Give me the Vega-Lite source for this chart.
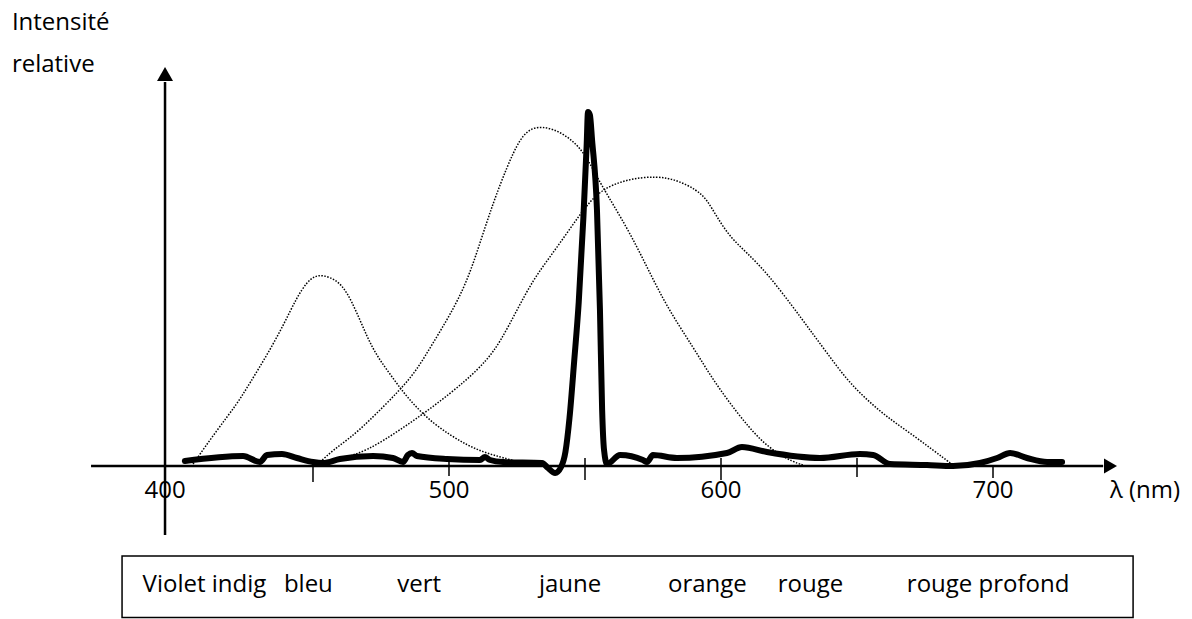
{
  "$schema": "https://vega.github.io/schema/vega-lite/v6.json",
  "width": 1192,
  "height": 619,
  "autosize": {"type": "fit", "contains": "padding"},
  "padding": 0,
  "background": "white",
  "config": {"view": {"stroke": null}, "text": {"font": "Open Sans", "fontSize": 24, "color": "black"}},
  "datasets": {
    "box": [{"x": 379.8, "x2": 751.5, "y": -22.5, "y2": -37.9}],
    "axes": [
      {"x": 368.4, "x2": 740.5, "y": 0, "y2": 0},
      {"x": 395.6, "x2": 395.6, "y": 96, "y2": -17.25}
    ],
    "ticks": [
      {"x": 450, "y": 0, "y2": -4},
      {"x": 500, "y": 1, "y2": -2.5},
      {"x": 550, "y": 2, "y2": -3.5},
      {"x": 600, "y": 2, "y2": -3.5},
      {"x": 650, "y": 2, "y2": -2.75},
      {"x": 700, "y": 0, "y2": -3}
    ],
    "arrowRight": [{"x": 743.2, "y": 0}],
    "arrowUp": [{"x": 395.6, "y": 98.0}],
    "curves": [
      {"s": "bleu", "x": 405.9, "y": 0.5},
      {"s": "bleu", "x": 414.7, "y": 9},
      {"s": "bleu", "x": 422.1, "y": 15.5},
      {"s": "bleu", "x": 426.8, "y": 20.75},
      {"s": "bleu", "x": 433.1, "y": 27.75},
      {"s": "bleu", "x": 439.0, "y": 35},
      {"s": "bleu", "x": 444.1, "y": 42.25},
      {"s": "bleu", "x": 447.8, "y": 46},
      {"s": "bleu", "x": 450.7, "y": 47.5},
      {"s": "bleu", "x": 453.7, "y": 47.75},
      {"s": "bleu", "x": 458.8, "y": 46.5},
      {"s": "bleu", "x": 462.5, "y": 43.5},
      {"s": "bleu", "x": 466.2, "y": 38.25},
      {"s": "bleu", "x": 469.9, "y": 32.25},
      {"s": "bleu", "x": 473.5, "y": 27.5},
      {"s": "bleu", "x": 478.3, "y": 23},
      {"s": "bleu", "x": 483.1, "y": 18.5},
      {"s": "bleu", "x": 488.2, "y": 14.5},
      {"s": "bleu", "x": 494.1, "y": 10.75},
      {"s": "bleu", "x": 500.4, "y": 7.75},
      {"s": "bleu", "x": 506.6, "y": 5.25},
      {"s": "bleu", "x": 512.5, "y": 3.5},
      {"s": "bleu", "x": 518.8, "y": 2.25},
      {"s": "bleu", "x": 524.3, "y": 1.25},
      {"s": "vert", "x": 451.8, "y": 0.5},
      {"s": "vert", "x": 457.4, "y": 4},
      {"s": "vert", "x": 463.6, "y": 7},
      {"s": "vert", "x": 469.9, "y": 10.75},
      {"s": "vert", "x": 482.0, "y": 19},
      {"s": "vert", "x": 488.2, "y": 24},
      {"s": "vert", "x": 494.1, "y": 30.75},
      {"s": "vert", "x": 500.4, "y": 37.75},
      {"s": "vert", "x": 506.6, "y": 46},
      {"s": "vert", "x": 511.4, "y": 55.75},
      {"s": "vert", "x": 516.2, "y": 65.75},
      {"s": "vert", "x": 521.3, "y": 74.75},
      {"s": "vert", "x": 526.1, "y": 82},
      {"s": "vert", "x": 530.9, "y": 85},
      {"s": "vert", "x": 538.2, "y": 84.5},
      {"s": "vert", "x": 545.6, "y": 81.5},
      {"s": "vert", "x": 550.7, "y": 77.25},
      {"s": "vert", "x": 555.5, "y": 70.75},
      {"s": "vert", "x": 565.4, "y": 59.75},
      {"s": "vert", "x": 572.8, "y": 49.75},
      {"s": "vert", "x": 580.1, "y": 39.75},
      {"s": "vert", "x": 589.7, "y": 29.75},
      {"s": "vert", "x": 597.1, "y": 21.5},
      {"s": "vert", "x": 605.9, "y": 13.25},
      {"s": "vert", "x": 614.3, "y": 6.5},
      {"s": "vert", "x": 620.6, "y": 3.25},
      {"s": "vert", "x": 626.5, "y": 1},
      {"s": "vert", "x": 630.2, "y": 0.25},
      {"s": "rouge", "x": 454.4, "y": 0.5},
      {"s": "rouge", "x": 459.9, "y": 1.75},
      {"s": "rouge", "x": 469.9, "y": 3.75},
      {"s": "rouge", "x": 482.0, "y": 9},
      {"s": "rouge", "x": 494.1, "y": 14.75},
      {"s": "rouge", "x": 506.6, "y": 21.5},
      {"s": "rouge", "x": 514.0, "y": 26.5},
      {"s": "rouge", "x": 518.8, "y": 31},
      {"s": "rouge", "x": 525.0, "y": 39},
      {"s": "rouge", "x": 530.9, "y": 46.5},
      {"s": "rouge", "x": 537.1, "y": 52.25},
      {"s": "rouge", "x": 543.4, "y": 58.25},
      {"s": "rouge", "x": 549.3, "y": 64},
      {"s": "rouge", "x": 555.5, "y": 69},
      {"s": "rouge", "x": 565.4, "y": 71.75},
      {"s": "rouge", "x": 576.5, "y": 72.5},
      {"s": "rouge", "x": 583.8, "y": 71.5},
      {"s": "rouge", "x": 591.2, "y": 69},
      {"s": "rouge", "x": 594.9, "y": 66.5},
      {"s": "rouge", "x": 598.5, "y": 62.25},
      {"s": "rouge", "x": 603.3, "y": 57.25},
      {"s": "rouge", "x": 609.6, "y": 53.25},
      {"s": "rouge", "x": 616.9, "y": 48.25},
      {"s": "rouge", "x": 626.5, "y": 39.75},
      {"s": "rouge", "x": 632.7, "y": 34},
      {"s": "rouge", "x": 639.0, "y": 28.25},
      {"s": "rouge", "x": 646.3, "y": 21.5},
      {"s": "rouge", "x": 653.7, "y": 16.5},
      {"s": "rouge", "x": 661.0, "y": 12.25},
      {"s": "rouge", "x": 669.5, "y": 8.25},
      {"s": "rouge", "x": 677.9, "y": 4},
      {"s": "rouge", "x": 685.3, "y": 0.25}
    ],
    "spectre": [
      {"x": 402.9, "y": 1.25},
      {"x": 424.3, "y": 2.5},
      {"x": 430.5, "y": 1.0},
      {"x": 433.1, "y": 2.75},
      {"x": 438.6, "y": 3.0},
      {"x": 444.1, "y": 2.0},
      {"x": 450.0, "y": 1.0},
      {"x": 453.7, "y": 0.75},
      {"x": 459.9, "y": 1.75},
      {"x": 472.1, "y": 2.5},
      {"x": 479.4, "y": 2.0},
      {"x": 483.1, "y": 1.0},
      {"x": 484.9, "y": 2.75},
      {"x": 486.4, "y": 3.25},
      {"x": 488.2, "y": 2.5},
      {"x": 499.3, "y": 1.75},
      {"x": 511.4, "y": 1.5},
      {"x": 513.2, "y": 2.25},
      {"x": 515.1, "y": 1.5},
      {"x": 519.9, "y": 1.0},
      {"x": 534.2, "y": 0.75},
      {"x": 536.4, "y": -0.5},
      {"x": 539.0, "y": -1.75},
      {"x": 541.2, "y": -0.25},
      {"x": 542.8, "y": 3.5},
      {"x": 544.3, "y": 12},
      {"x": 546.0, "y": 26},
      {"x": 547.7, "y": 41},
      {"x": 549.4, "y": 62},
      {"x": 550.6, "y": 80},
      {"x": 551.1, "y": 88.5},
      {"x": 551.8, "y": 87.75},
      {"x": 552.6, "y": 81.5},
      {"x": 554.4, "y": 64},
      {"x": 555.5, "y": 39},
      {"x": 556.3, "y": 14},
      {"x": 557.0, "y": 4},
      {"x": 558.1, "y": 0.5},
      {"x": 562.9, "y": 2.75},
      {"x": 571.3, "y": 1.5},
      {"x": 572.8, "y": 1.0},
      {"x": 575.0, "y": 2.75},
      {"x": 583.8, "y": 2.0},
      {"x": 602.2, "y": 3.25},
      {"x": 607.7, "y": 4.75},
      {"x": 616.9, "y": 3.5},
      {"x": 636.4, "y": 2.0},
      {"x": 651.1, "y": 3.0},
      {"x": 655.9, "y": 2.75},
      {"x": 662.1, "y": 0.5},
      {"x": 675.7, "y": 0.25},
      {"x": 685.3, "y": 0},
      {"x": 695.2, "y": 0.75},
      {"x": 701.5, "y": 2.0},
      {"x": 706.3, "y": 3.25},
      {"x": 712.5, "y": 2.0},
      {"x": 719.9, "y": 1.0},
      {"x": 725.4, "y": 1.0}
    ],
    "centerText": [
      {"x": 395.6, "y": -8, "text": "400"},
      {"x": 500, "y": -8, "text": "500"},
      {"x": 600, "y": -8, "text": "600"},
      {"x": 700, "y": -8, "text": "700"},
      {"x": 410.1, "y": -31.5, "text": "Violet indig"},
      {"x": 448.3, "y": -31.5, "text": "bleu"},
      {"x": 489.0, "y": -31.5, "text": "vert"},
      {"x": 544.5, "y": -31.5, "text": "jaune"},
      {"x": 595.0, "y": -31.5, "text": "orange"},
      {"x": 632.9, "y": -31.5, "text": "rouge"},
      {"x": 698.2, "y": -31.5, "text": "rouge profond"}
    ],
    "leftText": [
      {"x": 339.3, "y": 109, "text": "Intensité"},
      {"x": 339.3, "y": 98.5, "text": "relative"},
      {"x": 743.0, "y": -8, "text": "λ (nm)"}
    ]
  },
  "encoding": {
    "x": {"field": "x", "type": "quantitative", "scale": {"domain": [334.93, 773.16], "nice": false, "zero": false}, "axis": null},
    "y": {"field": "y", "type": "quantitative", "scale": {"domain": [-38.25, 116.5], "nice": false, "zero": false}, "axis": null}
  },
  "layer": [
    {
      "data": {"name": "box"},
      "mark": {"type": "rect", "fill": "white", "fillOpacity": 0, "stroke": "black", "strokeWidth": 1.5},
      "encoding": {"x2": {"field": "x2"}, "y2": {"field": "y2"}}
    },
    {
      "data": {"name": "axes"},
      "mark": {"type": "rule", "color": "black", "strokeWidth": 2.5},
      "encoding": {"x2": {"field": "x2"}, "y2": {"field": "y2"}}
    },
    {
      "data": {"name": "ticks"},
      "mark": {"type": "rule", "color": "black", "strokeWidth": 1.5},
      "encoding": {"y2": {"field": "y2"}}
    },
    {
      "data": {"name": "arrowRight"},
      "mark": {"type": "point", "shape": "triangle-right", "size": 225, "filled": true, "color": "black", "opacity": 1}
    },
    {
      "data": {"name": "arrowUp"},
      "mark": {"type": "point", "shape": "triangle-up", "size": 256, "filled": true, "color": "black", "opacity": 1}
    },
    {
      "data": {"name": "curves"},
      "mark": {"type": "line", "color": "black", "strokeWidth": 1.5, "strokeDash": [1.5, 1.5], "interpolate": "basis"},
      "encoding": {"detail": {"field": "s", "type": "nominal"}}
    },
    {
      "data": {"name": "spectre"},
      "mark": {"type": "line", "color": "black", "strokeWidth": 6, "strokeCap": "round", "strokeJoin": "round", "interpolate": "monotone"},
      "encoding": {}
    },
    {
      "data": {"name": "centerText"},
      "mark": {"type": "text", "align": "center", "baseline": "alphabetic"},
      "encoding": {"text": {"field": "text"}}
    },
    {
      "data": {"name": "leftText"},
      "mark": {"type": "text", "align": "left", "baseline": "alphabetic"},
      "encoding": {"text": {"field": "text"}}
    }
  ]
}
